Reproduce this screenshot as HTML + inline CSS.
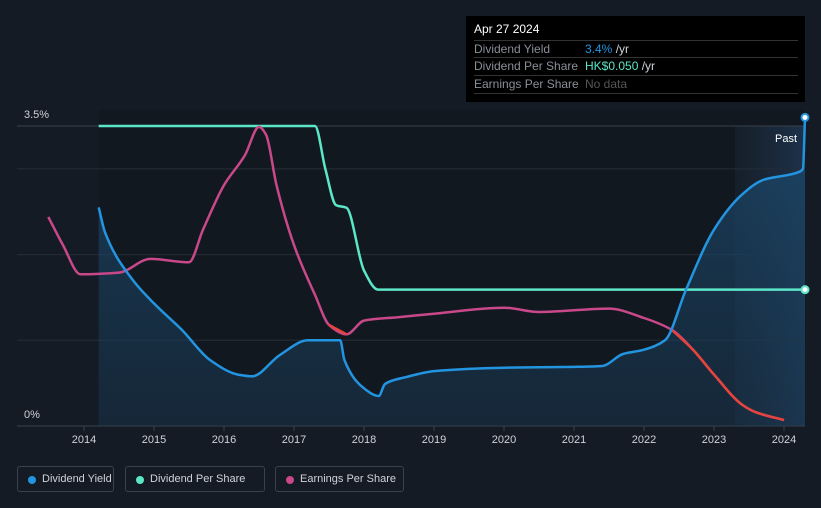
<!DOCTYPE html>
<html><head><meta charset="utf-8"><style>
body{margin:0;background:#151b24;font-family:"Liberation Sans",sans-serif;}
#wrap{position:relative;width:821px;height:508px;overflow:hidden;background:#151b24;}
.tt{position:absolute;left:466px;top:16px;width:339px;height:86px;background:#000;color:#fff;font-size:12px;}
.tt .row{position:absolute;left:8px;width:324px;border-top:1px solid #333;height:17px;line-height:17px;color:#8a8f98;}
.leg{position:absolute;top:466px;height:26px;border:1px solid #3a414c;border-radius:3px;color:#cfd3d9;font-size:11px;line-height:25px;box-sizing:border-box;padding-left:24px;white-space:nowrap;}
.leg i{position:absolute;left:10px;top:9px;width:8px;height:8px;border-radius:50%;}
</style></head><body>
<div id="wrap">
<svg id="svg" width="821" height="508" style="position:absolute;left:0;top:0">
<defs>
<linearGradient id="ag" x1="0" y1="0" x2="0" y2="1"><stop offset="0" stop-color="#1b4a6e" stop-opacity="0.75"/><stop offset="1" stop-color="#1a3a55" stop-opacity="0.45"/></linearGradient>
<linearGradient id="fg" x1="0" y1="0" x2="1" y2="0"><stop offset="0" stop-color="#1c2a3a" stop-opacity="0.4"/><stop offset="1" stop-color="#1d3550" stop-opacity="0.9"/></linearGradient>
</defs>
<rect x="99" y="110" width="706" height="316" fill="#121820"/>
<rect x="735" y="126" width="70" height="300" fill="url(#fg)"/>
<g id="grid"></g>
<path id="area" fill="url(#ag)"/>
<path id="dps" fill="none" stroke="#5ce6c8" stroke-width="2.5"/>
<path id="eps" fill="none" stroke="#c8488a" stroke-width="2.5"/>
<g id="epsred"></g>
<path id="dy" fill="none" stroke="#2394df" stroke-width="2.5"/>
<g id="xt"></g>
<text x="24" y="118" fill="#cfd3d9" font-size="11">3.5%</text>
<text x="24" y="418" fill="#cfd3d9" font-size="11">0%</text>
<text x="775" y="142" fill="#fff" font-size="11">Past</text>
</svg>
<div class="tt">
<div style="position:absolute;left:8px;top:6px;font-size:12px">Apr 27 2024</div>
<div class="row" style="top:24px">Dividend Yield<span style="position:absolute;left:111px;color:#2394df">3.4%<span style="color:#cfd3d9"> /yr</span></span></div>
<div class="row" style="top:41px">Dividend Per Share<span style="position:absolute;left:111px;color:#5ce6c8">HK$0.050<span style="color:#cfd3d9"> /yr</span></span></div>
<div class="row" style="top:59px;border-bottom:1px solid #333">Earnings Per Share<span style="position:absolute;left:111px;color:#555">No data</span></div>
</div>
<div class="leg" style="left:17px;width:97px"><i style="background:#2394df"></i>Dividend Yield</div>
<div class="leg" style="left:125px;width:140px"><i style="background:#5ce6c8"></i>Dividend Per Share</div>
<div class="leg" style="left:275px;width:129px"><i style="background:#c8488a"></i>Earnings Per Share</div>
</div>
<script>
const yieldYears=[2014.21,2014.3,2014.7,2015,2015.4,2015.8,2016.2,2016.4,2016.8,2017.2,2017.66,2017.72,2018,2018.21,2018.3,2018.6,2019,2020,2021,2021.4,2021.7,2022,2022.3,2022.6,2023,2023.4,2023.7,2024.2,2024.27,2024.3];
const yieldVals=[2.55,2.26,1.70,1.43,1.12,0.77,0.60,0.58,0.83,1.0,1.0,0.77,0.44,0.35,0.49,0.57,0.64,0.68,0.69,0.70,0.84,0.89,1.0,1.59,2.29,2.70,2.87,2.96,3.0,3.6];
const dpsYears=[2014.21,2017.3,2017.45,2017.6,2017.75,2018.0,2018.2,2024.3];
const dpsVals=[0.11,0.11,0.094,0.081,0.080,0.057,0.05,0.05];
const epsYears=[2013.49,2013.7,2013.95,2014.5,2014.95,2015.5,2015.7,2016.0,2016.3,2016.5,2016.6,2016.75,2017.0,2017.3,2017.5,2017.75,2018.0,2018.5,2019,2020,2020.5,2021.5,2022.0,2022.4,2022.7,2023,2023.4,2023.6,2024.0];
const epsVals=[2.44,2.11,1.77,1.79,1.95,1.91,2.29,2.81,3.16,3.49,3.4,2.81,2.11,1.53,1.18,1.07,1.23,1.27,1.31,1.38,1.33,1.37,1.26,1.12,0.89,0.6,0.25,0.16,0.07];
const xTicks=[2014,2015,2016,2017,2018,2019,2020,2021,2022,2023,2024];
const gridVals=[0,1,2,3,3.5];
const X=y=>84+(y-2014)*70;
const Y=v=>426-v*300/3.5;
const YD=v=>426-v*300/0.11;
const ns="http://www.w3.org/2000/svg";
function pts(xs,vs,f){return xs.map((x,i)=>[X(x),f(vs[i])]);}
function d(p){
  const n=p.length;
  if(n<2)return '';
  const dx=[],m=[],t=new Array(n);
  for(let i=0;i<n-1;i++){dx[i]=p[i+1][0]-p[i][0];m[i]=(p[i+1][1]-p[i][1])/(dx[i]||1e-6);}
  t[0]=m[0];t[n-1]=m[n-2];
  for(let i=1;i<n-1;i++){
    if(m[i-1]*m[i]<=0)t[i]=0;
    else{const w1=2*dx[i]+dx[i-1],w2=dx[i]+2*dx[i-1];t[i]=(w1+w2)/(w1/m[i-1]+w2/m[i]);}
  }
  let s='M'+p[0][0].toFixed(1)+' '+p[0][1].toFixed(1);
  for(let i=0;i<n-1;i++){
    const h=dx[i]/3;
    s+=` C${(p[i][0]+h).toFixed(1)} ${(p[i][1]+t[i]*h).toFixed(1)} ${(p[i+1][0]-h).toFixed(1)} ${(p[i+1][1]-t[i+1]*h).toFixed(1)} ${p[i+1][0].toFixed(1)} ${p[i+1][1].toFixed(1)}`;
  }
  return s;
}
const g=document.getElementById('grid');
gridVals.forEach(v=>{const l=document.createElementNS(ns,'line');


l.setAttribute('x1',17);l.setAttribute('x2',805);l.setAttribute('y1',Y(v));l.setAttribute('y2',Y(v));
l.setAttribute('stroke',v===0||v===3.5?'#3a414c':'#262d37');l.setAttribute('stroke-width',1);g.appendChild(l);});
const xt=document.getElementById('xt');
xTicks.forEach(t=>{const s=document.createElementNS(ns,'text');


s.setAttribute('x',X(t));s.setAttribute('y',443);s.setAttribute('fill','#cfd3d9');s.setAttribute('font-size','11');s.setAttribute('text-anchor','middle');s.textContent=t;xt.appendChild(s);
const l=document.createElementNS(ns,'line');


l.setAttribute('x1',X(t));l.setAttribute('x2',X(t));l.setAttribute('y1',426);l.setAttribute('y2',431);l.setAttribute('stroke','#3a414c');xt.appendChild(l);});
const yp=pts(yieldYears,yieldVals,Y);
document.getElementById('dy').setAttribute('d',d(yp));
document.getElementById('area').setAttribute('d',d(yp)+` L${yp[yp.length-1][0]} 426 L${yp[0][0]} 426 Z`);
document.getElementById('dps').setAttribute('d',d(pts(dpsYears,dpsVals,YD)));
const ep=pts(epsYears,epsVals,Y);
document.getElementById('eps').setAttribute('d',d(ep));
const er=document.getElementById('epsred');
[[2017.45,2017.95],[2022.2,2024.1]].forEach(r=>{const seg=ep.filter((p,i)=>epsYears[i]>=r[0]&&epsYears[i]<=r[1]);
const p=document.createElementNS(ns,'path');


p.setAttribute('d',d(seg));p.setAttribute('fill','none');p.setAttribute('stroke','#e5443c');p.setAttribute('stroke-width','2.5');er.appendChild(p);});
const last=yp[yp.length-1];
const c=document.createElementNS(ns,'circle');


c.setAttribute('cx',last[0]);c.setAttribute('cy',last[1]);c.setAttribute('r',3.5);c.setAttribute('fill','#fff');c.setAttribute('stroke','#2394df');c.setAttribute('stroke-width',2);document.getElementById('svg').appendChild(c);
const dl=pts(dpsYears,dpsVals,YD);const dd=dl[dl.length-1];
const c2=document.createElementNS(ns,'circle');


c2.setAttribute('cx',dd[0]);c2.setAttribute('cy',dd[1]);c2.setAttribute('r',3.5);c2.setAttribute('fill','#fff');c2.setAttribute('stroke','#5ce6c8');c2.setAttribute('stroke-width',2);document.getElementById('svg').appendChild(c2);
</script>
</body></html>
